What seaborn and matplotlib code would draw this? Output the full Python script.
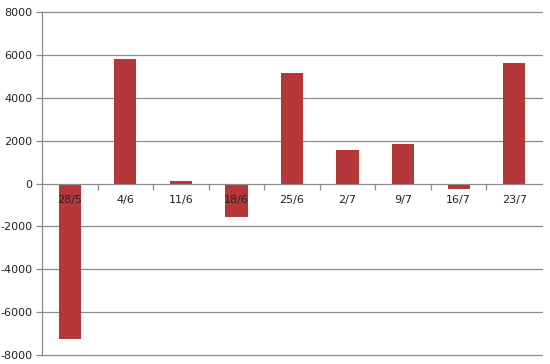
import matplotlib
matplotlib.use("Agg")
import matplotlib.pyplot as plt
import seaborn as sns
import pandas as pd
import numpy as np

categories = ["28/5", "4/6", "11/6", "18/6", "25/6", "2/7", "9/7", "16/7", "23/7"]
values = [-7250, 5800, 100, -1550, 5150, 1580, 1830, -250, 5600]
yticks = [-8000, -6000, -4000, -2000, 0, 2000, 4000, 6000, 8000]

sns.set_style("white")
plt.rcParams['font.family'] = ['DejaVu Sans']

df = pd.DataFrame({"date": categories, "value": values})

fig = plt.figure(figsize=(5.5, 3.64), dpi=100)
ax = fig.add_axes([0.0764, 0.0247, 0.909, 0.9423])
sns.barplot(data=df, x="date", y="value", color="#B5373A", saturation=1,
            width=0.4, ax=ax, edgecolor="none")

ax.set_xlim(-0.5, len(categories) - 0.5)
ax.set_ylim(-8000, 8000)
ax.set_yticks(yticks)
ax.set_yticklabels([str(v) for v in yticks], fontsize=8, color="#222222")
ax.set_xlabel("")
ax.set_ylabel("")

for y in yticks:
    if y != 0:
        ax.axhline(y, color="#8a8a8a", lw=0.9, zorder=0, clip_on=False)

for s in ["top", "right"]:
    ax.spines[s].set_visible(False)
ax.spines["left"].set_color("#8a8a8a")
ax.spines["left"].set_linewidth(0.9)
ax.spines["bottom"].set_position(("data", 0))
ax.spines["bottom"].set_color("#8a8a8a")
ax.spines["bottom"].set_linewidth(0.9)

ax.tick_params(axis="y", length=4, color="#8a8a8a", width=0.9, pad=3, left=True)
ax.set_xticks(range(len(categories)))
ax.set_xticklabels(categories, fontsize=8, color="#222222")
ax.tick_params(axis="x", which="major", length=0, pad=8)
ax.set_xticks(np.arange(0.5, len(categories) - 0.5, 1.0), minor=True)
ax.tick_params(axis="x", which="minor", length=4, color="#8a8a8a", width=0.9, bottom=True)
ax.xaxis.set_zorder(5)
ax.set_axisbelow(False)

fig.savefig("out.png", dpi=100)
